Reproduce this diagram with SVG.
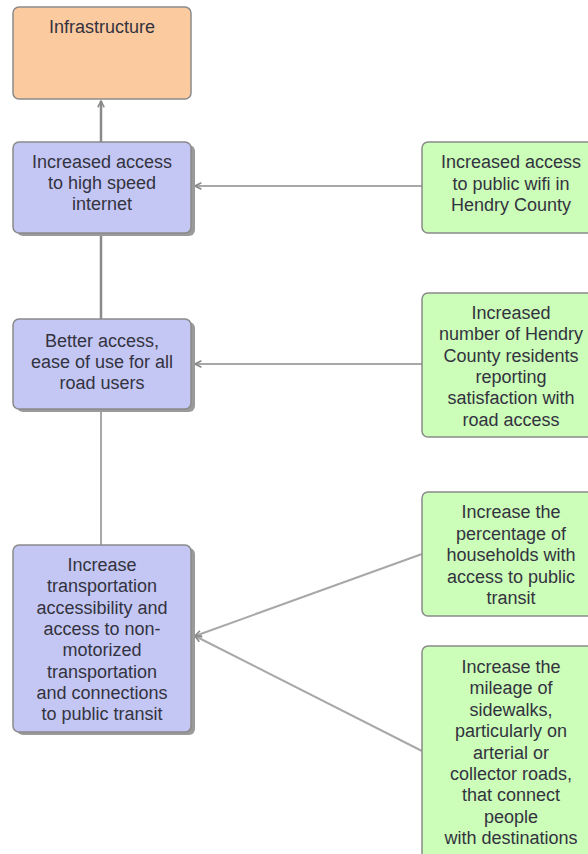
<svg xmlns="http://www.w3.org/2000/svg" width="588" height="854" viewBox="0 0 588 854">
<style>
.t{font-family:"Liberation Sans",Arial,sans-serif;font-size:18px;fill:#333340;text-anchor:middle}
.peach{fill:#fcca9f;stroke:#8a8a8a;stroke-width:1.5}
.blue{fill:#c4c7f4;stroke:#8a8a8a;stroke-width:1.5}
.shadow{fill:#9a9a9a}
.green{fill:#ccfdb9;stroke:#8a8a8a;stroke-width:1.5}
.c{fill:none;stroke:#a8a8a8;stroke-width:2}
.cd{fill:none;stroke:#8a8a8a;stroke-width:2.5}
</style>
<defs>
<marker id="ah" viewBox="0 0 10 10" refX="9" refY="5" markerWidth="8" markerHeight="8" orient="auto" markerUnits="userSpaceOnUse">
<path d="M1,1 L9,5 L1,9" fill="none" stroke="#8a8a8a" stroke-width="2"/>
</marker>
</defs>
<rect width="588" height="854" fill="#ffffff"/>
<g id="connectors">
<line class="cd" x1="101" y1="142" x2="101" y2="101" marker-end="url(#ah)"/>
<line class="cd" x1="101" y1="234" x2="101" y2="319"/>
<line class="c" x1="101" y1="410" x2="101" y2="545" stroke="#bdbdbd"/>
<line class="c" x1="422" y1="186" x2="195" y2="186" marker-end="url(#ah)"/>
<line class="c" x1="422" y1="364" x2="195" y2="364" marker-end="url(#ah)"/>
<line class="c" x1="422" y1="554" x2="195" y2="636" marker-end="url(#ah)"/>
<line class="c" x1="422" y1="751" x2="195" y2="636" marker-end="url(#ah)"/>
</g>
<g id="infrastructure">
<rect class="peach" x="13" y="7" width="178" height="92" rx="6"/>
<text class="t" x="102" y="33">Infrastructure</text>
</g>
<g id="internet">
<rect class="shadow" x="17" y="145" width="178" height="91" rx="6"/>
<rect class="blue" x="13" y="142" width="178" height="91" rx="6"/>
<text class="t" x="102" y="168">Increased access</text>
<text class="t" x="102" y="189">to high speed</text>
<text class="t" x="102" y="210">internet</text>
</g>
<g id="road-access">
<rect class="shadow" x="17" y="322" width="178" height="90" rx="6"/>
<rect class="blue" x="13" y="319" width="178" height="90" rx="6"/>
<text class="t" x="102" y="346.5">Better access,</text>
<text class="t" x="102" y="367.5">ease of use for all</text>
<text class="t" x="102" y="388.5">road users</text>
</g>
<g id="transportation">
<rect class="shadow" x="17" y="548" width="178" height="187" rx="6"/>
<rect class="blue" x="13" y="545" width="178" height="187" rx="6"/>
<text class="t" x="102" y="571">Increase</text>
<text class="t" x="102" y="592.3">transportation</text>
<text class="t" x="102" y="613.6">accessibility and</text>
<text class="t" x="102" y="634.9">access to non-</text>
<text class="t" x="102" y="656.2">motorized</text>
<text class="t" x="102" y="677.5">transportation</text>
<text class="t" x="102" y="698.8">and connections</text>
<text class="t" x="102" y="720.1">to public transit</text>
</g>
<g id="wifi">
<rect class="green" x="422" y="142" width="178" height="91" rx="6"/>
<text class="t" x="511" y="168">Increased access</text>
<text class="t" x="511" y="189.5">to public wifi in</text>
<text class="t" x="511" y="211">Hendry County</text>
</g>
<g id="satisfaction">
<rect class="green" x="422" y="293" width="178" height="144" rx="6"/>
<text class="t" x="511" y="319">Increased</text>
<text class="t" x="511" y="340.3">number of Hendry</text>
<text class="t" x="511" y="361.6">County residents</text>
<text class="t" x="511" y="382.9">reporting</text>
<text class="t" x="511" y="404.2">satisfaction with</text>
<text class="t" x="511" y="425.5">road access</text>
</g>
<g id="public-transit">
<rect class="green" x="422" y="492" width="178" height="124" rx="6"/>
<text class="t" x="511" y="518">Increase the</text>
<text class="t" x="511" y="539.5">percentage of</text>
<text class="t" x="511" y="561">households with</text>
<text class="t" x="511" y="582.5">access to public</text>
<text class="t" x="511" y="604">transit</text>
</g>
<g id="sidewalks">
<rect class="green" x="422" y="646" width="178" height="220" rx="6"/>
<text class="t" x="511" y="673">Increase the</text>
<text class="t" x="511" y="694.4">mileage of</text>
<text class="t" x="511" y="715.8">sidewalks,</text>
<text class="t" x="511" y="737.2">particularly on</text>
<text class="t" x="511" y="758.6">arterial or</text>
<text class="t" x="511" y="780">collector roads,</text>
<text class="t" x="511" y="801.4">that connect</text>
<text class="t" x="511" y="822.8">people</text>
<text class="t" x="511" y="844.2">with destinations</text>
</g>
</svg>
